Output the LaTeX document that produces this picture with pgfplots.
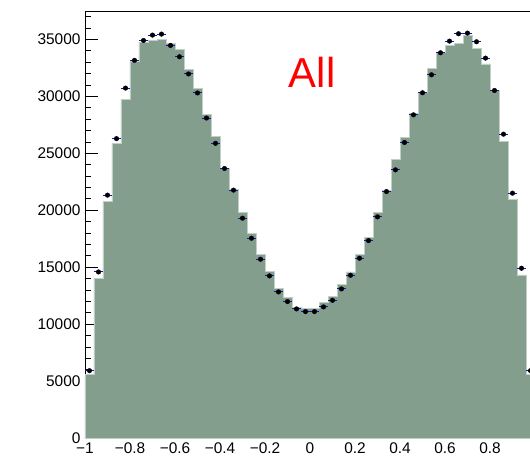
\documentclass[border=0pt]{standalone}
\usepackage{pgfplots}
\pgfplotsset{compat=1.18}
\usepackage{pgfplotstable}
\usepackage{fontspec}
\setmainfont{Liberation Sans}
\definecolor{histfill}{RGB}{131,158,141}
\definecolor{histedge}{RGB}{192,208,198}
\definecolor{errblue}{RGB}{20,20,190}

\pgfplotstableread{
x y
-1.00 5550
-0.96 14033
-0.92 20738
-0.88 25893
-0.84 29762
-0.80 33040
-0.76 34739
-0.72 34912
-0.68 34974
-0.64 34622
-0.60 34154
-0.56 32396
-0.52 30726
-0.48 28441
-0.44 26520
-0.40 23697
-0.36 21793
-0.32 19800
-0.28 17926
-0.24 16142
-0.20 14617
-0.16 13151
-0.12 12361
-0.08 11453
-0.04 11380
0.00 11397
0.04 11890
0.08 12417
0.12 13503
0.16 14587
0.20 16081
0.24 17633
0.28 19772
0.32 21720
0.36 24430
0.40 26360
0.44 28470
0.48 30317
0.52 32450
0.56 33860
0.60 34490
0.64 34665
0.68 35325
0.72 34241
0.76 32850
0.80 30535
0.84 26041
0.88 20914
0.92 14323
0.96 5600
1.00 5600
}\histtable

\pgfplotstableread{
x y
-0.98 5910
-0.94 14580
-0.90 21330
-0.86 26290
-0.82 30730
-0.78 33170
-0.74 34912
-0.70 35384
-0.66 35472
-0.62 34477
-0.58 33480
-0.54 31970
-0.50 30300
-0.46 28100
-0.42 25880
-0.38 23670
-0.34 21770
-0.30 19306
-0.26 17545
-0.22 15700
-0.18 14236
-0.14 12830
-0.10 11980
-0.06 11336
-0.02 11101
0.02 11101
0.06 11511
0.10 12097
0.14 13093
0.18 14294
0.22 15788
0.26 17340
0.30 19420
0.34 21647
0.38 23550
0.42 25952
0.46 28383
0.50 30317
0.54 31898
0.58 33831
0.62 34856
0.66 35501
0.70 35559
0.74 34798
0.78 33363
0.82 30521
0.86 26683
0.90 21500
0.94 14909
0.98 5914
}\datatable

\begin{document}
\begin{tikzpicture}
\begin{axis}[
  scale only axis,
  width=450bp, height=427bp,
  xmin=-1, xmax=1, ymin=0, ymax=37500,
  axis line style={black, line width=0.9bp},
  xtick={-1,-0.8,-0.6,-0.4,-0.2,0,0.2,0.4,0.6,0.8},
  xticklabels={−1,−0.8,−0.6,−0.4,−0.2,0,0.2,0.4,0.6,0.8},
  major x tick style={draw=none},
  ytick={0,5000,10000,15000,20000,25000,30000,35000},
  yticklabels={0,5000,10000,15000,20000,25000,30000,35000},
  minor ytick={1000,2000,...,37000},
  xtick pos=bottom, ytick pos=left,
  tick align=inside,
  major tick length=13bp, minor tick length=6.5bp,
  tick style={black, line width=0.8bp},
  ticklabel style={font=\fontsize{15.5}{16}\selectfont},
  yticklabel style={xshift=-1bp},
  xticklabel style={yshift=-1bp},
  clip=true,
]
\addplot[const plot mark left, fill=histfill, draw=histedge, line width=0.8bp]
  table[x=x, y=y] {\histtable} \closedcycle;
\addplot[only marks, mark=*, mark size=2.3bp, black,
  error bars/.cd, x dir=both, x fixed=0.018, error mark=none,
  error bar style={errblue, line width=1bp}]
  table[x=x, y=y] {\datatable};
\node[text=red, font=\fontsize{42}{42}\selectfont] at (axis cs:0.01,32100) {All};
\end{axis}
\pgfresetboundingbox
\useasboundingbox (-85bp,-20bp) rectangle (445bp,438bp);
\end{tikzpicture}
\end{document}
